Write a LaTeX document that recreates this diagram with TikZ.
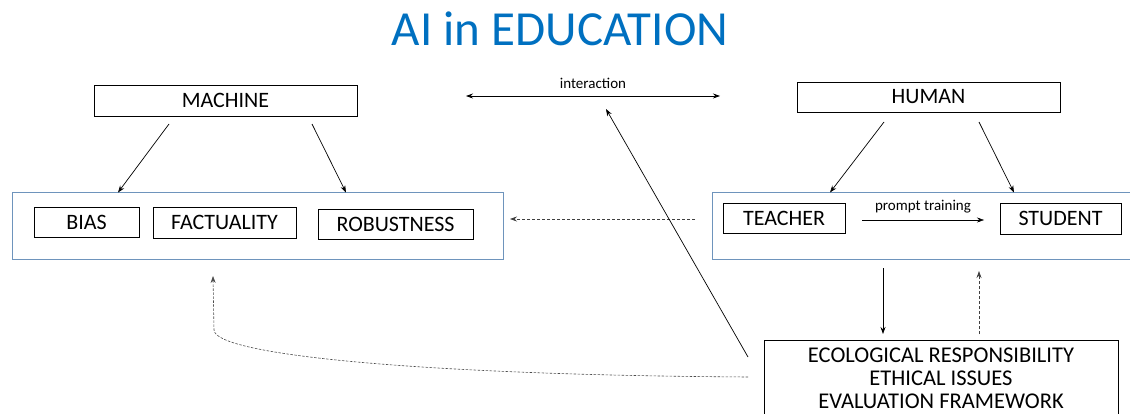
\documentclass[tikz,border=0pt]{standalone}
\usepackage{fontspec}
\setmainfont{Carlito}
\usetikzlibrary{arrows.meta}
\definecolor{titleblue}{RGB}{0,112,192}
\definecolor{framecol}{RGB}{110,148,188}
\tikzset{
  lbl/.style={draw=black,line width=0.9pt,inner sep=0pt,font=\fontsize{22}{26}\selectfont},
  grp/.style={draw=framecol,line width=1pt,inner sep=0pt},
  arr/.style={line width=0.7pt,-{Stealth[length=7pt,width=5pt]}},
  dasharr/.style={arr,dash pattern=on 3pt off 2pt,draw=black!75},
}
\begin{document}
\begin{tikzpicture}[x=1pt,y=-1pt]
\useasboundingbox (0,0) rectangle (1130,414);
\node[font=\fontsize{49}{54}\selectfont,text=titleblue] (title) at (560,29) {AI in EDUCATION};
% groups
\node[grp,minimum width=491pt,minimum height=67pt] (leftgrp) at (257.5,226.5) {};
\node[grp,minimum width=428pt,minimum height=67pt] (rightgrp) at (926,226.5) {};
% boxes
\node[lbl,minimum width=263pt,minimum height=31pt] (machine) at (225.5,100.5) {MACHINE};
\node[lbl,minimum width=263pt,minimum height=30pt] (human) at (928.5,97) {HUMAN};
\node[lbl,minimum width=105pt,minimum height=30pt] (bias) at (86.5,222) {BIAS};
\node[lbl,minimum width=143pt,minimum height=31pt] (fact) at (224.5,222.5) {FACTUALITY};
\node[lbl,minimum width=155pt,minimum height=30pt] (robust) at (395.5,224) {ROBUSTNESS};
\node[lbl,minimum width=122pt,minimum height=30pt] (teacher) at (784,218) {TEACHER};
\node[lbl,minimum width=121pt,minimum height=31pt] (student) at (1060.5,218.5) {STUDENT};
\node[lbl,minimum width=354pt,minimum height=76pt,align=center,
      font=\fontsize{22.5}{23}\selectfont] (frame) at (941,378)
      {ECOLOGICAL RESPONSIBILITY\\ETHICAL ISSUES\\EVALUATION FRAMEWORK};
% coordinates
\coordinate (m1) at (169,124);
\coordinate (m2) at (312,124);
\coordinate (h1) at (884,122);
\coordinate (h2) at (979,122);
\coordinate (ia) at (466,96);
\coordinate (ib) at (720,96);
\coordinate (pa) at (862,220);
\coordinate (pb) at (984,220);
\coordinate (da) at (695,219);
\coordinate (db) at (510,219);
\coordinate (la) at (748,357);
\coordinate (lb) at (606,109);
\coordinate (va) at (883,268);
\coordinate (vb) at (883,334);
\coordinate (ua) at (979,334);
\coordinate (ub) at (979,271);
\coordinate (ca) at (748,377);
\coordinate (cb) at (213,276);
% connectors
\draw[arr] (m1) -- (leftgrp.north -| 118,0);
\draw[arr] (m2) -- (leftgrp.north -| 346,0);
\draw[arr] (h1) -- (rightgrp.north -| 830,0);
\draw[arr] (h2) -- (rightgrp.north -| 1014,0);
\draw[line width=0.7pt,{Stealth[length=7pt,width=5pt]}-{Stealth[length=7pt,width=5pt]}] (ia) -- node[above=4pt,font=\fontsize{15}{17}\selectfont]{interaction} (ib);
\draw[arr,line width=0.5pt] (pa) -- node[above=3pt,font=\fontsize{15}{17}\selectfont]{prompt training} (pb);
\draw[dasharr] (da) -- (db);
\draw[arr] (la) -- (lb);
\draw[arr] (va) -- (vb);
\draw[dasharr] (ua) -- (ub);
\draw[arr,dash pattern=on 2.5pt off 1.5pt,draw=black!70,line width=0.6pt] (ca) .. controls (420,375) and (215,355) .. (214,330) -- (cb);
\end{tikzpicture}
\end{document}
